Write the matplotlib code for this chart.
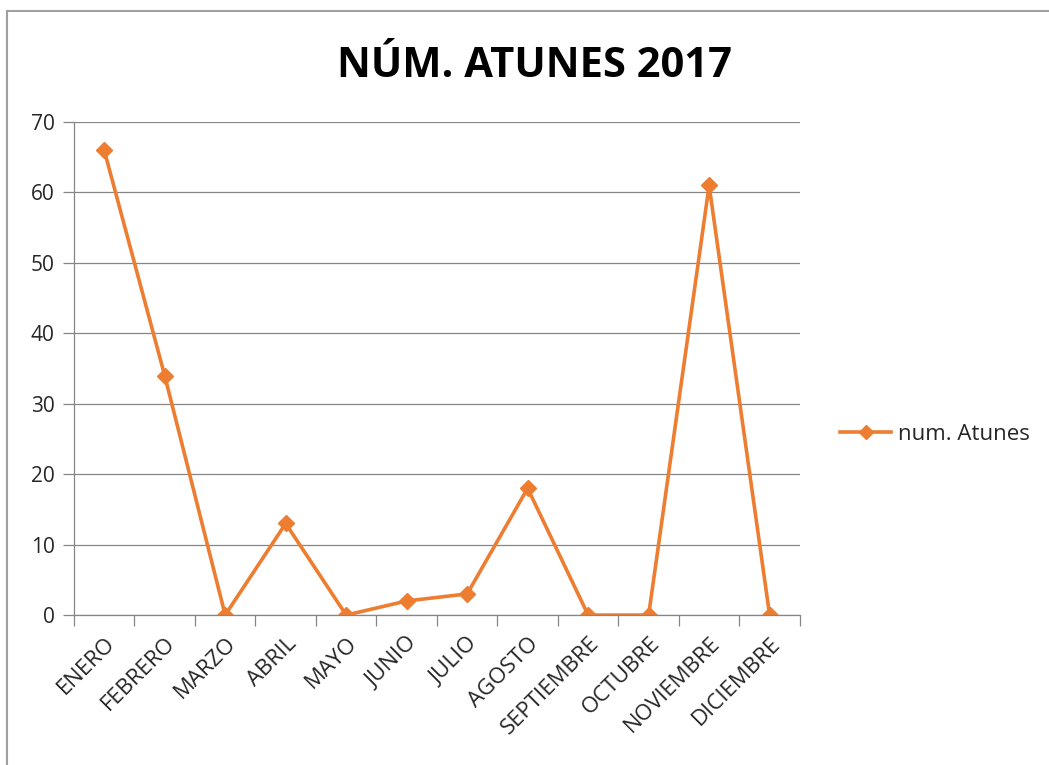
import matplotlib.pyplot as plt
import numpy as np
from matplotlib.lines import Line2D

plt.rcParams['font.family'] = ['Open Sans', 'DejaVu Sans']

months = ["ENERO", "FEBRERO", "MARZO", "ABRIL", "MAYO", "JUNIO", "JULIO",
          "AGOSTO", "SEPTIEMBRE", "OCTUBRE", "NOVIEMBRE", "DICIEMBRE"]
atunes = [66, 34, 0, 13, 0, 2, 3, 18, 0, 0, 61, 0]
y_ticks = [0, 10, 20, 30, 40, 50, 60, 70]

orange = "#ED7D31"
grey = "#868686"
text_col = "#262626"

fig = plt.figure(figsize=(10.49, 7.65), dpi=100)
ax = fig.add_axes([0.0705, 0.196, 0.692, 0.6445])

x = np.arange(len(months))
ax.plot(x, atunes, color=orange, lw=2.6, marker="D", ms=8, label="num. Atunes")

ax.set_xlim(-0.5, len(months) - 0.5)
ax.set_ylim(0, 70)
ax.set_yticks(y_ticks)
ax.yaxis.grid(True, color=grey, lw=0.9)
ax.set_axisbelow(True)

# category labels at the centers, tick marks at the boundaries
ax.set_xticks(x)
ax.set_xticklabels(months, rotation=45, ha="right", rotation_mode="anchor")
ax.set_xticks(np.arange(-0.5, len(months)), minor=True)
ax.tick_params(axis="x", which="major", length=0, labelsize=16, pad=13,
               labelcolor=text_col)
ax.tick_params(axis="x", which="minor", length=8, color=grey, width=0.9)
ax.tick_params(axis="y", length=8, color=grey, width=0.9, labelsize=15, pad=6,
               labelcolor=text_col)

for side in ("top", "right"):
    ax.spines[side].set_visible(False)
for side in ("left", "bottom"):
    ax.spines[side].set_color(grey)
    ax.spines[side].set_linewidth(0.9)

fig.text(0.51, 0.913, "NÚM. ATUNES 2017", ha="center", va="center",
         fontsize=30, fontweight="bold")

leg = ax.legend(loc="center left", bbox_to_anchor=(1.028, 0.366), frameon=False,
                fontsize=16, handlelength=2.3, handletextpad=0.3, markerscale=0.9)
for t in leg.get_texts():
    t.set_color(text_col)

# outer chart border (left and top visible)
fig.add_artist(Line2D([0.0067, 0.0067], [0, 0.9856], color="#A0A0A0", lw=1.5,
                      transform=fig.transFigure))
fig.add_artist(Line2D([0.0067, 1], [0.9856, 0.9856], color="#A0A0A0", lw=1.5,
                      transform=fig.transFigure))

fig.savefig("out.png", dpi=100)
